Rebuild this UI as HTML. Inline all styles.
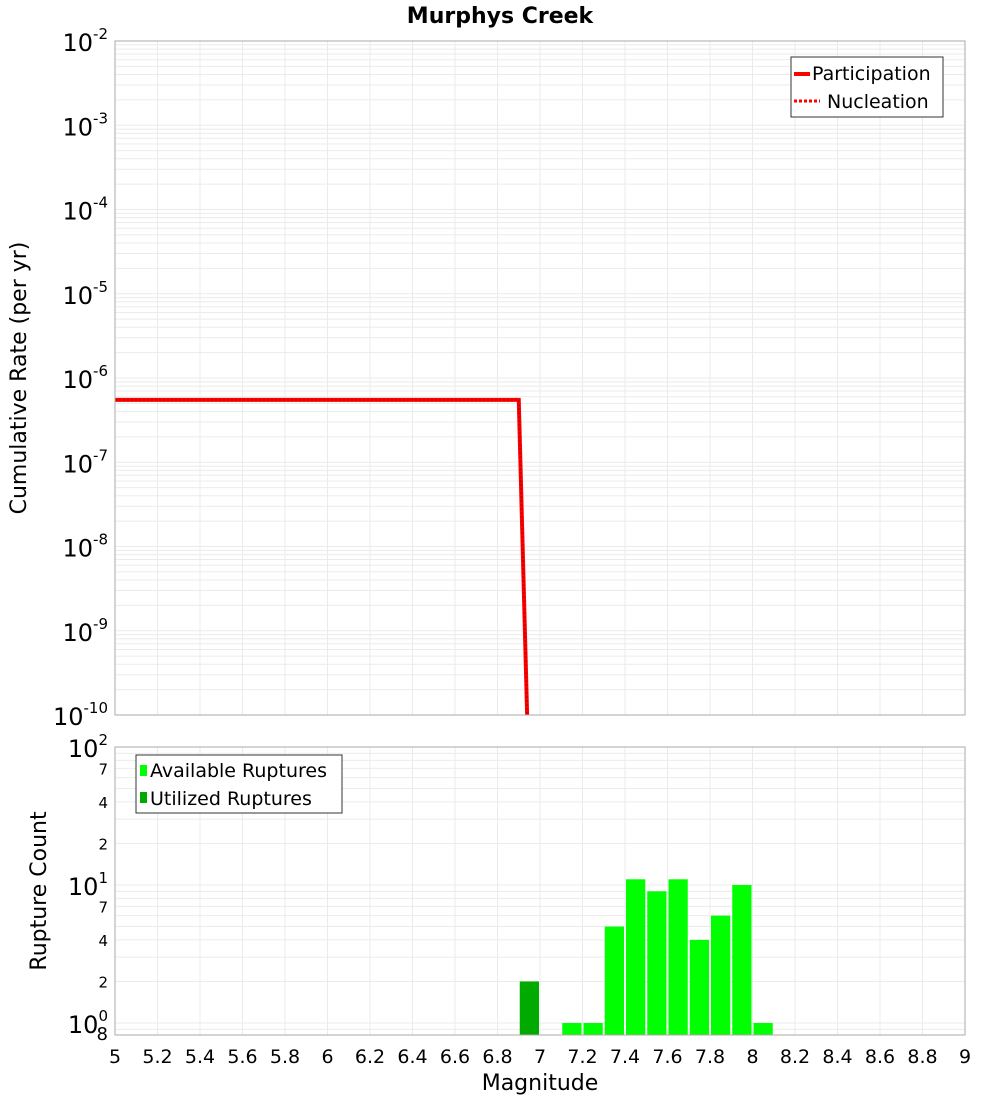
<!DOCTYPE html>
<html><head><meta charset="utf-8"><style>
body{margin:0;background:#fff;font-family:"Liberation Sans","DejaVu Sans",sans-serif}
svg text{font-family:"DejaVu Sans","Liberation Sans",sans-serif}
</style></head><body>
<svg id="chart" width="1000" height="1100" xmlns="http://www.w3.org/2000/svg">
<text x="500" y="23" text-anchor="middle" font-size="22" font-weight="bold">Murphys Creek</text>
<g id="topg"></g><g id="botg"></g>
<text transform="translate(26,378) rotate(-90)" text-anchor="middle" font-size="22">Cumulative Rate (per yr)</text>
<text transform="translate(46,891) rotate(-90)" text-anchor="middle" font-size="22">Rupture Count</text>
<text x="540" y="1090" text-anchor="middle" font-size="22">Magnitude</text>
</svg>
<script>
const xTicks=[5,5.2,5.4,5.6,5.8,6,6.2,6.4,6.6,6.8,7,7.2,7.4,7.6,7.8,8,8.2,8.4,8.6,8.8,9];
const partMags=[5,6.9,6.95];
const partRates=[5.5e-7,5.5e-7,1e-11];
const barMags=[7.15,7.25,7.35,7.45,7.55,7.65,7.75,7.85,7.95,8.05];
const barCounts=[1,1,5,11,9,11,4,6,10,1];
const usedMags=[6.95];
const usedCounts=[2];
const NS="http://www.w3.org/2000/svg";
const X0=115,X1=965;
const xs=m=>X0+(m-5)/4*(X1-X0);
const T0=41,T1=715;
const yt=v=>T0+(-2-Math.log10(v))*(T1-T0)/8;
const B0=747,B1=1035;
const yb=v=>B0+(2-Math.log10(v))*138;
function mk(p,tag,at){const e=document.createElementNS(NS,tag);for(const k in at)e.setAttribute(k,at[k]);p.appendChild(e);return e;}
const topG=document.getElementById('topg'),botG=document.getElementById('botg');
for(let d=-10;d<-2;d++)for(let k=1;k<10;k++){const y=yt(k*Math.pow(10,d));const l=mk(topG,'line',{x1:X0,x2:X1,y1:y,y2:y,stroke:'#ebebeb','stroke-width':1});

}
xTicks.forEach(m=>{const l=mk(topG,'line',{x1:xs(m),x2:xs(m),y1:T0,y2:T1,stroke:'#ebebeb'});

});
for(let d=-10;d<=-2;d++){const t=mk(topG,'text',{x:108,y:yt(Math.pow(10,d))+10,'text-anchor':'end','font-size':24});


t.innerHTML='10<tspan dy="-12" font-size="15">'+d+'</tspan>';}
const cp=mk(topG,'clipPath',{id:'tc'});mk(cp,'rect',{x:X0,y:T0,width:X1-X0,height:T1-T0});
const pts=partMags.map((m,i)=>xs(m)+','+yt(partRates[i])).join(' ');
const pl=mk(topG,'polyline',{points:pts,fill:'none',stroke:'#ff0000','stroke-width':4,'clip-path':'url(#tc)'});


const nl=mk(topG,'polyline',{points:pts,fill:'none',stroke:'#cc0000','stroke-width':2,'stroke-dasharray':'2,2','clip-path':'url(#tc)'});


const tb=mk(topG,'rect',{x:X0,y:T0,width:X1-X0,height:T1-T0,fill:'none',stroke:'#aaa'});


const lg=mk(topG,'g',{});


mk(lg,'rect',{x:791,y:57,width:152,height:60,fill:'#fff',stroke:'#333'});
mk(lg,'line',{x1:794,x2:810,y1:74,y2:74,stroke:'#f00','stroke-width':4});
mk(lg,'line',{x1:794,x2:820,y1:101,y2:101,stroke:'#f00','stroke-width':3,'stroke-dasharray':'3,2'});
const l1=mk(lg,'text',{x:812,y:80,'font-size':19});l1.textContent='Participation';


const l2=mk(lg,'text',{x:827,y:108,'font-size':19});l2.textContent='Nucleation';


[0.8,0.9,1,2,3,4,5,6,7,8,9,10,20,30,40,50,60,70,80,90,100].forEach(v=>{const y=yb(v);if(y>B1)return;const l=mk(botG,'line',{x1:X0,x2:X1,y1:y,y2:y,stroke:'#ebebeb'});

});
xTicks.forEach(m=>{const l=mk(botG,'line',{x1:xs(m),x2:xs(m),y1:B0,y2:B1,stroke:'#ebebeb'});

});
[[2,100],[1,10],[0,1]].forEach(([d,v])=>{const t=mk(botG,'text',{x:108,y:yb(v)+10,'text-anchor':'end','font-size':24});


t.innerHTML='10<tspan dy="-12" font-size="15">'+d+'</tspan>';});
[2,4,7,20,40,70].forEach(v=>{const t=mk(botG,'text',{x:108,y:yb(v)+6,'text-anchor':'end','font-size':15});t.textContent=String(v).charAt(0);

});
const t8=mk(botG,'text',{x:108,y:1040,'text-anchor':'end','font-size':18});t8.textContent='8';


const bw=(xs(5.1)-xs(5))-2;
barMags.forEach((m,i)=>{const y=yb(barCounts[i]);const r=mk(botG,'rect',{x:xs(m)-bw/2,y:y,width:bw,height:B1-y,fill:'#00ff00'});

});
usedMags.forEach((m,i)=>{const y=yb(usedCounts[i]);const r=mk(botG,'rect',{x:xs(m)-bw/2,y:y,width:bw,height:B1-y,fill:'#00aa00'});

});
const bb=mk(botG,'rect',{x:X0,y:B0,width:X1-X0,height:B1-B0,fill:'none',stroke:'#aaa'});


xTicks.forEach(m=>{const t=mk(botG,'text',{x:xs(m),y:1063,'text-anchor':'middle','font-size':19});t.textContent=String(m);

});
const lg2=mk(botG,'g',{});


mk(lg2,'rect',{x:136,y:755,width:206,height:58,fill:'#fff',stroke:'#333'});
mk(lg2,'rect',{x:140,y:765,width:7,height:11,fill:'#00ff00'});
mk(lg2,'rect',{x:140,y:792,width:7,height:11,fill:'#00aa00'});
const a1=mk(lg2,'text',{x:150,y:777,'font-size':19});a1.textContent='Available Ruptures';


const a2=mk(lg2,'text',{x:150,y:805,'font-size':19});a2.textContent='Utilized Ruptures';


</script>
</body></html>
